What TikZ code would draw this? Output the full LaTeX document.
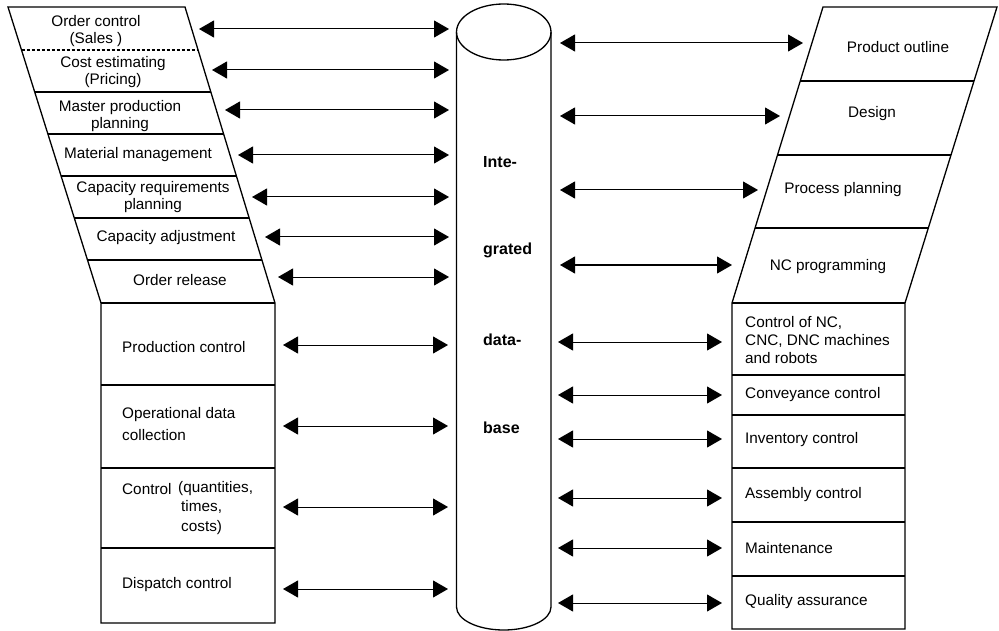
\documentclass[tikz,border=0pt]{standalone}
\usepackage{fontspec}
\setmainfont{Liberation Sans}
\usetikzlibrary{arrows.meta,calc}
\begin{document}
\begin{tikzpicture}[x=1bp,y=-1bp,
  outline/.style={line width=1.3bp,line join=miter},
  divider/.style={line width=1.1bp},
  link/.style={line width=1bp,{Triangle[length=15bp,width=17bp]}-{Triangle[length=15bp,width=17bp]}},
  lbl/.style={inner sep=0pt,font=\fontsize{15.3bp}{17bp}\selectfont,align=center},
  lbll/.style={inner sep=0pt,font=\fontsize{15.3bp}{18bp}\selectfont,align=left,anchor=west},
  dbtext/.style={inner sep=0pt,anchor=west,font=\fontsize{16bp}{18bp}\selectfont\bfseries}]
\useasboundingbox (0,0) rectangle (999,631);

% ---------- left block: planning (slanted) over control (upright)
\coordinate (LTL) at (8,7);
\coordinate (LTR) at (185,7);
\coordinate (LML) at (101,303);
\coordinate (LMR) at (275,303);
\coordinate (LBL) at (101,623);
\coordinate (LBR) at (275,623);
\draw[outline] (LTL) -- (LTR) -- (LMR) -- (LBR) -- (LBL) -- (LML) -- cycle;
\draw[divider] (LML) -- (LMR);
\draw[divider,dash pattern=on 3bp off 2bp]
  ($(LTL)!{(50-7)/296}!(LML)$) -- ($(LTR)!{(50-7)/296}!(LMR)$);
\foreach \y in {92,134,176,218,260}
  \draw[divider] ($(LTL)!{(\y-7)/296}!(LML)$) -- ($(LTR)!{(\y-7)/296}!(LMR)$);
\foreach \y in {385,468,548}
  \draw[divider] (101,\y) -- (275,\y);

% ---------- right block: engineering (slanted) over shop floor (upright)
\coordinate (RTL) at (823,7);
\coordinate (RTR) at (997,7);
\coordinate (RML) at (732,303);
\coordinate (RMR) at (905,303);
\coordinate (RBL) at (732,629);
\coordinate (RBR) at (905,629);
\draw[outline] (RTL) -- (RTR) -- (RMR) -- (RBR) -- (RBL) -- (RML) -- cycle;
\draw[divider] (RML) -- (RMR);
\foreach \y in {81,155,228}
  \draw[divider] ($(RTL)!{(\y-7)/296}!(RML)$) -- ($(RTR)!{(\y-7)/296}!(RMR)$);
\foreach \y in {375,415,468,522,576}
  \draw[divider] (732,\y) -- (905,\y);

% ---------- central database cylinder
\draw[outline] (456.5,32) -- (456.5,607)
  arc[start angle=180,end angle=0,x radius=47.25,y radius=23] -- (551,32);
\draw[outline] (503.75,32) ellipse[x radius=47.25,y radius=28];

% ---------- labels, left
\node[lbl] (oc)  at (96,31.5)  {Order control\\(Sales )};
\node[lbl] (ce)  at (113,72.5) {Cost estimating\\(Pricing)};
\node[lbl] (mpp) at (120,116) {Master production\\planning};
\node[lbl] (mm)  at (138,155)  {Material management};
\node[lbl] (crp) at (153,197)  {Capacity requirements\\planning};
\node[lbl] (ca)  at (166,238)  {Capacity adjustment};
\node[lbl] (orr) at (180,280)  {Order release};
\node[lbll] (pc)  at (122,347) {Production control};
\node[lbll,font=\fontsize{15.3bp}{22bp}\selectfont] (odc) at (122,424) {Operational data\\collection};
\node[lbll] (ctl) at (122,489) {Control};
\node[lbll,anchor=north west,font=\fontsize{15.3bp}{19.5bp}\selectfont] (ctq) at (178,481)
  {(quantities,\\\hspace{3bp}times,\\\hspace{3bp}costs)};
\node[lbll] (dc)  at (122,585) {Dispatch control};

% ---------- labels, database
\node[dbtext] (db1) at (483,162) {Inte-};
\node[dbtext] (db2) at (483,250) {grated};
\node[dbtext] (db3) at (483,340) {data-};
\node[dbtext] (db4) at (483,428) {base};

% ---------- labels, right
\node[lbl] (po)  at (898,47)  {Product outline};
\node[lbl] (dsg) at (872,114) {Design};
\node[lbl] (pp)  at (843,190) {Process planning};
\node[lbl] (ncp) at (828,267) {NC programming};
\node[lbll] (cnc) at (745,340) {Control of NC,\\CNC, DNC machines\\and robots};
\node[lbll] (cvc) at (745,395) {Conveyance control};
\node[lbll] (ivc) at (745,440) {Inventory control};
\node[lbll] (asc) at (745,495) {Assembly control};
\node[lbll] (mnt) at (745,548) {Maintenance};
\node[lbll] (qa)  at (745,602) {Quality assurance};

% ---------- data links to the database
\foreach \i/\xa/\xb/\y in {1/199/449/29, 2/212/449/70, 3/225/449/110,
    4/238/449/155, 5/252/449/197, 6/265/449/237, 7/278/449/277,
    8/283/448/345, 9/283/448/426, 10/283/448/507, 11/283/448/589} {
  \coordinate (la\i) at (\xa,\y);
  \coordinate (lb\i) at (\xb,\y);
  \draw[link] (la\i) -- (lb\i);
}
\foreach \i/\xa/\xb/\y in {1/560/803/43, 2/560/780/116, 3/560/758/190,
    4/560/732/265, 5/558/722/342, 6/558/722/395, 7/558/722/439,
    8/558/722/498, 9/558/722/548, 10/558/722/603} {
  \coordinate (ra\i) at (\xa,\y);
  \coordinate (rb\i) at (\xb,\y);
  \draw[link] (ra\i) -- (rb\i);
}
\end{tikzpicture}
\end{document}
